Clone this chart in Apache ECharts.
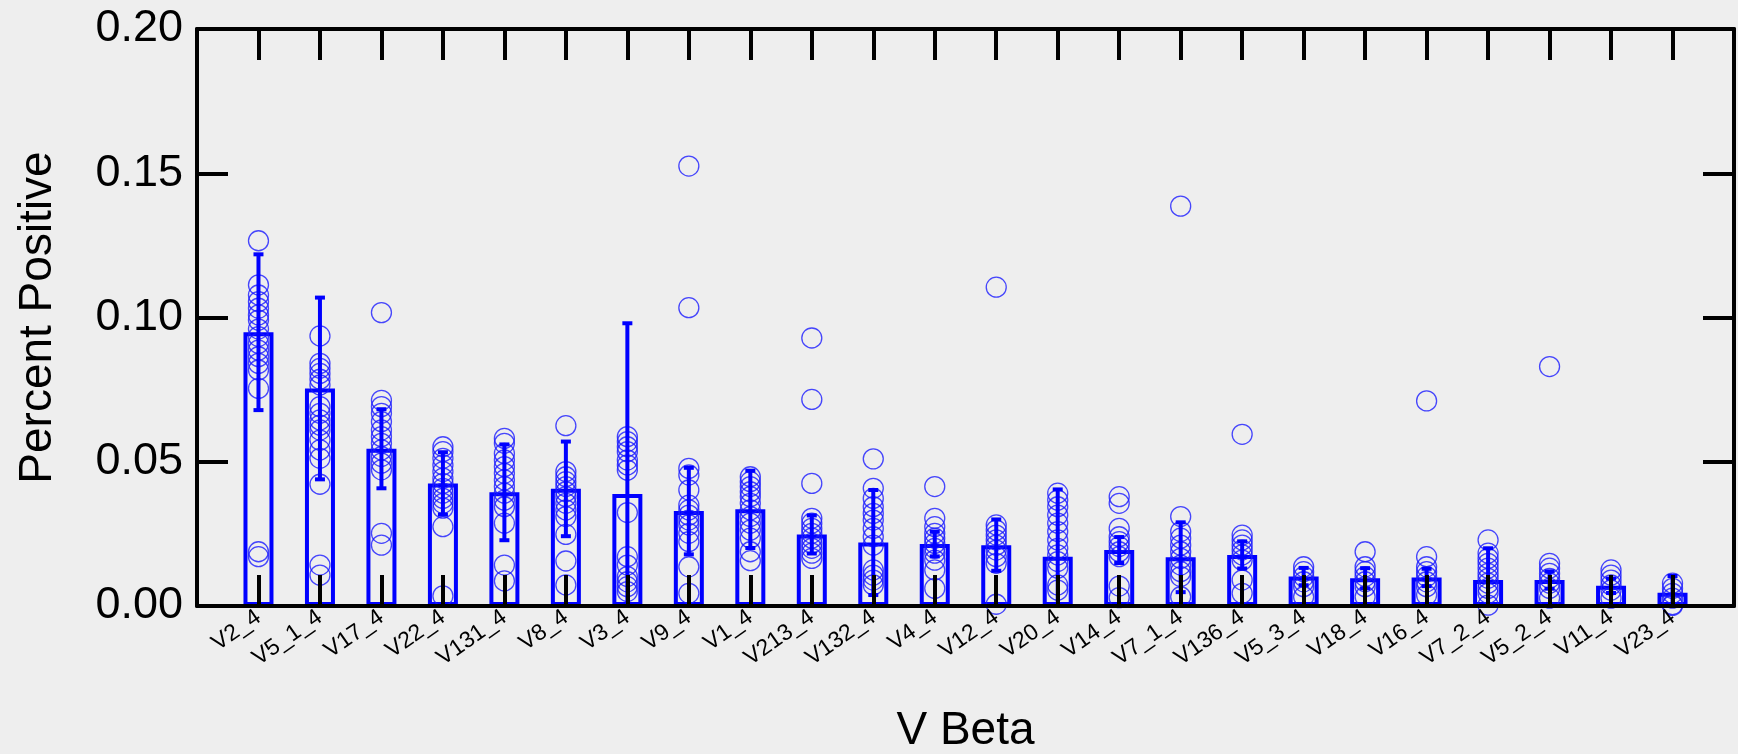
<!DOCTYPE html>
<html lang="en">

<head>
  <meta charset="UTF-8">
  <title>Percent Positive by V Beta</title>
  <script src="https://cdn.jsdelivr.net/npm/echarts@6/dist/echarts.min.js"></script>
  <style>
    * {
      margin: 0;
      padding: 0;
    }

    body {
      background-color: #eeeeee;
    }

    #chart {
      width: 1738px;
      height: 754px;
    }
  </style>
</head>

<body>
  <div id="chart"></div>

  <script type="text/javascript">
    const categories = ['V2_4', 'V5_1_4', 'V17_4', 'V22_4', 'V131_4', 'V8_4', 'V3_4', 'V9_4', 'V1_4', 'V213_4', 'V132_4', 'V4_4',
      'V12_4', 'V20_4', 'V14_4', 'V7_1_4', 'V136_4', 'V5_3_4', 'V18_4', 'V16_4', 'V7_2_4', 'V5_2_4', 'V11_4', 'V23_4']
    // bar heights (mean) and error bar half-length
    const means = [0.0949, 0.0754, 0.0545, 0.0425, 0.0394, 0.0406, 0.0388, 0.0329, 0.0335, 0.0248, 0.0220, 0.0215,
      0.0211, 0.0171, 0.0194, 0.0169, 0.0177, 0.0102, 0.0096, 0.0099, 0.0090, 0.0090, 0.0070, 0.0046]
    const sds = [0.0270, 0.0315, 0.0137, 0.0108, 0.0166, 0.0164, 0.0592, 0.0150, 0.0134, 0.0066, 0.0182, 0.0043,
      0.0089, 0.0233, 0.0045, 0.0121, 0.0047, 0.0030, 0.0035, 0.0030, 0.0110, 0.0030, 0.0025, 0.0058]
    // individual samples, one list per category
    const points = [
      [0.1266, 0.1113, 0.1078, 0.1055, 0.1032, 0.1009, 0.0991, 0.0960, 0.0934, 0.0910, 0.0887, 0.0864, 0.0841, 0.0818, 0.0754, 0.0188, 0.0171],
      [0.0936, 0.0841, 0.0824, 0.0806, 0.0786, 0.0766, 0.0691, 0.0668, 0.0645, 0.0627, 0.0610, 0.0575, 0.0541, 0.0512, 0.0422, 0.0142, 0.0107],
      [0.1017, 0.0713, 0.0691, 0.0668, 0.0639, 0.0610, 0.0587, 0.0564, 0.0541, 0.0518, 0.0495, 0.0472, 0.0252, 0.0211],
      [0.0552, 0.0535, 0.0512, 0.0489, 0.0466, 0.0443, 0.0425, 0.0408, 0.0391, 0.0373, 0.0356, 0.0339, 0.0275, 0.0035],
      [0.0581, 0.0564, 0.0529, 0.0506, 0.0483, 0.0460, 0.0437, 0.0414, 0.0391, 0.0367, 0.0344, 0.0287, 0.0142, 0.0087],
      [0.0625, 0.0466, 0.0448, 0.0431, 0.0414, 0.0396, 0.0379, 0.0356, 0.0333, 0.0310, 0.0248, 0.0156, 0.0073],
      [0.0587, 0.0570, 0.0552, 0.0535, 0.0506, 0.0489, 0.0471, 0.0324, 0.0171, 0.0142, 0.0102, 0.0084, 0.0067, 0.0050],
      [0.1525, 0.1034, 0.0477, 0.0454, 0.0402, 0.0350, 0.0333, 0.0315, 0.0298, 0.0281, 0.0252, 0.0223, 0.0136, 0.0044],
      [0.0448, 0.0431, 0.0414, 0.0396, 0.0379, 0.0356, 0.0333, 0.0310, 0.0287, 0.0263, 0.0235, 0.0188, 0.0157],
      [0.0929, 0.0716, 0.0425, 0.0304, 0.0287, 0.0269, 0.0252, 0.0235, 0.0217, 0.0200, 0.0183, 0.0165],
      [0.0510, 0.0408, 0.0373, 0.0344, 0.0321, 0.0298, 0.0269, 0.0240, 0.0211, 0.0125, 0.0107, 0.0090, 0.0073],
      [0.0414, 0.0304, 0.0275, 0.0252, 0.0235, 0.0217, 0.0200, 0.0183, 0.0159, 0.0125, 0.0061],
      [0.1105, 0.0281, 0.0263, 0.0246, 0.0229, 0.0211, 0.0194, 0.0171, 0.0148, 0.0006],
      [0.0391, 0.0367, 0.0344, 0.0315, 0.0287, 0.0258, 0.0229, 0.0200, 0.0177, 0.0154, 0.0131, 0.0073, 0.0055],
      [0.0379, 0.0356, 0.0269, 0.0240, 0.0223, 0.0206, 0.0188, 0.0171, 0.0069, 0.0029],
      [0.1386, 0.0310, 0.0258, 0.0235, 0.0211, 0.0188, 0.0165, 0.0142, 0.0119, 0.0102, 0.0032],
      [0.0595, 0.0246, 0.0229, 0.0211, 0.0194, 0.0177, 0.0159, 0.0090, 0.0044],
      [0.0136, 0.0119, 0.0102, 0.0084, 0.0067, 0.0032],
      [0.0188, 0.0136, 0.0119, 0.0102, 0.0084, 0.0067, 0.0032],
      [0.0711, 0.0171, 0.0136, 0.0119, 0.0102, 0.0084, 0.0067, 0.0038],
      [0.0229, 0.0183, 0.0165, 0.0148, 0.0131, 0.0113, 0.0096, 0.0079, 0.0061, 0.0044, 0.0003],
      [0.0830, 0.0148, 0.0131, 0.0113, 0.0096, 0.0079, 0.0061, 0.0027],
      [0.0125, 0.0107, 0.0090, 0.0073, 0.0055, 0.0027],
      [0.0079, 0.0061, 0.0044, 0.0027, 0.0005, 0.0002]
    ]
    const yTicks = [0, 0.05, 0.10, 0.15, 0.20]

    const font = "'Liberation Sans', Arial, sans-serif"
    const blue = '#0000ff'

    // one empty slot at each end, like the original plot
    const axisData = [''].concat(categories, [' '])
    const isCat = (i) => i > 0 && i < axisData.length - 1

    var chart = echarts.init(document.getElementById('chart'))

    const scatterData = []
    points.forEach((list, i) => {
      list.forEach(v => scatterData.push([categories[i], v]))
    })
    const barData = categories.map((c, i) => [c, means[i]])
    const errData = categories.map((c, i) => [c, means[i] - sds[i], means[i] + sds[i]])

    const axisLine = { show: true, onZero: false, lineStyle: { color: '#000', width: 4 } }
    const tickStyle = { color: '#000', width: 4 }

    var option = {
      backgroundColor: '#eeeeee',
      animation: false,
      grid: { left: 197, right: 4, top: 29, bottom: 148, outerBoundsMode: 'none', containLabel: false },
      xAxis: [
        {
          type: 'category',
          data: axisData,
          boundaryGap: false,
          position: 'bottom',
          z: 10,
          axisLine: axisLine,
          axisTick: { show: true, inside: true, length: 31, interval: (i) => isCat(i), lineStyle: tickStyle },
          axisLabel: {
            interval: 0, rotate: 35, margin: 9, fontSize: 23, color: '#000', fontFamily: font
          },
          splitLine: { show: false },
          name: 'V Beta',
          nameLocation: 'middle',
          nameGap: 102,
          nameTextStyle: { fontSize: 46, color: '#000', fontFamily: font }
        },
        {
          type: 'category',
          data: axisData,
          boundaryGap: false,
          position: 'top',
          z: 10,
          axisLine: axisLine,
          axisTick: { show: true, inside: true, length: 31, interval: (i) => isCat(i), lineStyle: tickStyle },
          axisLabel: { show: false },
          splitLine: { show: false }
        }
      ],
      yAxis: [
        {
          type: 'value',
          min: yTicks[0],
          max: yTicks[yTicks.length - 1],
          interval: 0.05,
          position: 'left',
          z: 10,
          axisLine: axisLine,
          axisTick: { show: true, inside: true, length: 31, lineStyle: tickStyle },
          axisLabel: {
            margin: 14, fontSize: 45, color: '#000', fontFamily: font,
            formatter: (v) => v.toFixed(2)
          },
          splitLine: { show: false },
          name: 'Percent Positive',
          nameLocation: 'middle',
          nameGap: 136,
          nameTextStyle: { fontSize: 46, color: '#000', fontFamily: font }
        },
        {
          type: 'value',
          min: yTicks[0],
          max: yTicks[yTicks.length - 1],
          interval: 0.05,
          position: 'right',
          z: 10,
          axisLine: axisLine,
          axisTick: { show: true, inside: true, length: 31, lineStyle: tickStyle },
          axisLabel: { show: false },
          splitLine: { show: false }
        }
      ],
      series: [
        {
          name: 'mean',
          type: 'bar',
          data: barData,
          barWidth: 30,
          itemStyle: { color: 'rgba(0,0,0,0)', borderColor: blue, borderWidth: 4 },
          z: 2
        },
        {
          name: 'samples',
          type: 'scatter',
          data: scatterData,
          symbol: 'circle',
          symbolSize: 20,
          itemStyle: { color: 'rgba(0,0,0,0)', borderColor: '#1a1aff', borderWidth: 1.3 },
          z: 3
        },
        {
          name: 'error',
          type: 'custom',
          data: errData,
          z: 4,
          renderItem: function (params, api) {
            const x = api.value(0)
            let lo = api.value(1)
            const hi = api.value(2)
            const clipped = lo < 0
            if (clipped) lo = 0
            const top = api.coord([x, hi])
            const bot = api.coord([x, lo])
            const cap = 5
            const style = { stroke: blue, lineWidth: 4 }
            const children = [
              { type: 'line', shape: { x1: top[0], y1: top[1], x2: bot[0], y2: bot[1] }, style: style },
              { type: 'line', shape: { x1: top[0] - cap, y1: top[1], x2: top[0] + cap, y2: top[1] }, style: { stroke: blue, lineWidth: 4 } }
            ]
            if (!clipped) {
              children.push({ type: 'line', shape: { x1: bot[0] - cap, y1: bot[1], x2: bot[0] + cap, y2: bot[1] }, style: { stroke: blue, lineWidth: 4 } })
            }
            return { type: 'group', children: children }
          }
        }
      ]
    }

    chart.setOption(option)
  </script>
</body>

</html>
